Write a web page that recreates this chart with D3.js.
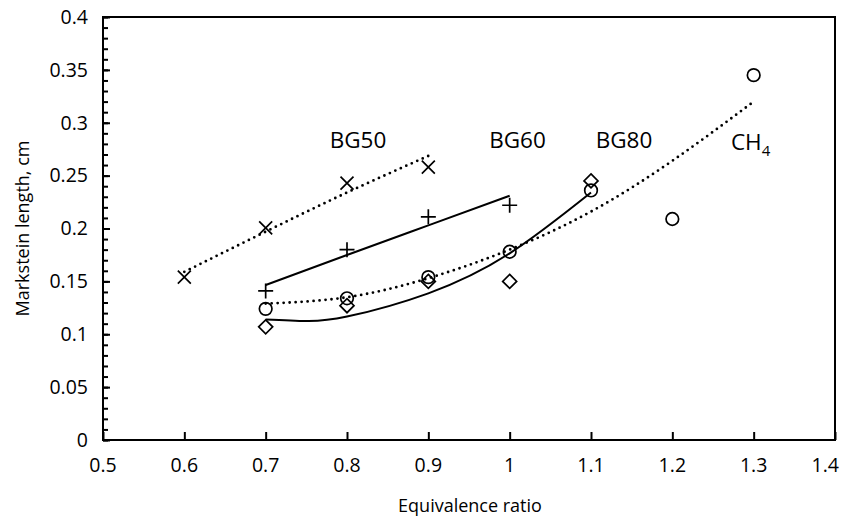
<!DOCTYPE html>
<html>
<head>
<meta charset="utf-8">
<script src="https://cdn.jsdelivr.net/npm/d3@7"></script>
<style>
  body { margin: 0; background: #fff; }
  text { font-family: "Open Sans", sans-serif; fill: #000; }
</style>
</head>
<body>
<div id="chart"></div>
<script>
// measured points
var bg50Phi = [0.6, 0.7, 0.8, 0.9];
var bg50 = [0.154, 0.2005, 0.243, 0.258];
var bg60Phi = [0.7, 0.8, 0.9, 1.0];
var bg60 = [0.141, 0.180, 0.211, 0.222];
var bg80Phi = [0.7, 0.8, 0.9, 1.0, 1.1];
var bg80 = [0.107, 0.127, 0.150, 0.150, 0.245];
var ch4Phi = [0.7, 0.8, 0.9, 1.0, 1.1, 1.2, 1.3];
var ch4 = [0.124, 0.134, 0.154, 0.178, 0.236, 0.209, 0.345];

// trendlines
var bg50TrendPhi = [0.6, 0.7, 0.8, 0.9];
var bg50Trend = [0.159, 0.197, 0.234, 0.2686];
var bg60TrendPhi = [0.7, 0.8, 0.9, 1.0];
var bg60Trend = [0.1466, 0.175, 0.203, 0.231];
var bg80TrendPhi = [0.7, 0.75, 0.8, 0.9, 1.0, 1.1];
var bg80Trend = [0.114, 0.1125, 0.1167, 0.1387, 0.1765, 0.234];
var ch4TrendPhi = [0.7, 0.8, 0.9, 1.0, 1.1, 1.2, 1.3];
var ch4Trend = [0.129, 0.135, 0.153, 0.180, 0.216, 0.264, 0.320];

var xTicks = [0.5, 0.6, 0.7, 0.8, 0.9, 1, 1.1, 1.2, 1.3, 1.4];
var yTicks = [0, 0.05, 0.1, 0.15, 0.2, 0.25, 0.3, 0.35, 0.4];
var yMinor = d3.range(0, 41).map(function(i) { return i / 100; });

// series labels (anchor middle, except CH4 which starts at x)
var labels = [
  {name: "BG50", x: 0.8135, y: 0.2758, anchor: "middle"},
  {name: "BG60", x: 1.0096, y: 0.2758, anchor: "middle"},
  {name: "BG80", x: 1.1406, y: 0.2758, anchor: "middle"},
  {name: "CH", sub: "4", x: 1.272, y: 0.2745, anchor: "start"}
];

var W = 849, H = 518;
var margin = {top: 17, right: 14, bottom: 78, left: 103};
var width = W - margin.left - margin.right,
    height = H - margin.top - margin.bottom;

var svg = d3.select("#chart").append("svg")
    .attr("width", W)
    .attr("height", H);
var g = svg.append("g")
    .attr("transform", "translate(" + margin.left + "," + margin.top + ")");

var x = d3.scaleLinear().domain([0.5, 1.4]).range([0, width]);
var y = d3.scaleLinear().domain([0, 0.4]).range([height, 0]);

// y minor ticks (inside)
g.append("g")
  .call(d3.axisRight(y).tickValues(yMinor).tickSize(5).tickFormat(""))
  .call(function(a) { a.select(".domain").remove(); })
  .selectAll("line").attr("stroke-width", 2);

// y major ticks, labels drawn as plain text
var yAxis = g.append("g")
  .call(d3.axisLeft(y).tickValues(yTicks).tickSize(-7).tickFormat(""));
yAxis.select(".domain").remove();
yAxis.selectAll("line").attr("stroke-width", 2);
g.append("g").selectAll("text")
  .data(yTicks).enter().append("text")
  .attr("x", -15).attr("y", function(d) { return y(d); })
  .attr("dy", "0.35em")
  .attr("text-anchor", "end")
  .attr("font-size", 19.5)
  .text(function(d) { return +d.toFixed(2); });

// x major ticks, labels drawn as plain text
var xAxis = g.append("g")
  .attr("transform", "translate(0," + height + ")")
  .call(d3.axisBottom(x).tickValues(xTicks).tickSize(-8).tickFormat(""));
xAxis.select(".domain").remove();
xAxis.selectAll("line").attr("stroke-width", 2);
g.append("g").selectAll("text")
  .data(xTicks).enter().append("text")
  .attr("x", function(d, i) { return i === xTicks.length - 1 ? x(d) + 4 : x(d); })
  .attr("y", height + 32)
  .attr("text-anchor", function(d, i) { return i === xTicks.length - 1 ? "end" : "middle"; })
  .attr("font-size", 19.5)
  .text(function(d) { return +d.toFixed(1); });

// frame
g.append("rect")
  .attr("width", width).attr("height", height)
  .attr("fill", "none").attr("stroke", "#000").attr("stroke-width", 2);

// axis titles
svg.append("text")
  .attr("x", margin.left + width / 2 + 1).attr("y", 512)
  .attr("text-anchor", "middle").attr("font-size", 18)
  .text("Equivalence ratio");
svg.append("text")
  .attr("transform", "translate(29," + (margin.top + height / 2) + ") rotate(-90)")
  .attr("text-anchor", "middle").attr("font-size", 18)
  .text("Markstein length, cm");

// trendlines
var line = d3.line()
  .x(function(d) { return x(d[0]); })
  .y(function(d) { return y(d[1]); })
  .curve(d3.curveNatural);

function trend(px, py, dotted) {
  var p = g.append("path")
    .datum(d3.zip(px, py))
    .attr("d", line)
    .attr("fill", "none")
    .attr("stroke", "#000");
  if (dotted) {
    p.attr("stroke-width", 2.8)
     .attr("stroke-linecap", "round")
     .attr("stroke-dasharray", "0 6");
  } else {
    p.attr("stroke-width", 2);
  }
}
trend(bg50TrendPhi, bg50Trend, true);
trend(bg60TrendPhi, bg60Trend, false);
trend(bg80TrendPhi, bg80Trend, false);
trend(ch4TrendPhi, ch4Trend, true);

// markers
var shapes = {
  "x": "M-6.5,-6.5L6.5,6.5M-6.5,6.5L6.5,-6.5",
  "+": "M-7.5,0L7.5,0M0,-7.5L0,7.5",
  "d": "M0,-7L7,0L0,7L-7,0Z",
  "o": "M6.3,0A6.3,6.3 0 1,1 -6.3,0A6.3,6.3 0 1,1 6.3,0Z"
};
function markers(px, py, kind) {
  g.append("g").selectAll("path")
    .data(d3.zip(px, py)).enter().append("path")
    .attr("transform", function(d) { return "translate(" + x(d[0]) + "," + y(d[1]) + ")"; })
    .attr("d", shapes[kind])
    .attr("fill", "none").attr("stroke", "#000").attr("stroke-width", 1.7);
}
markers(bg50Phi, bg50, "x");
markers(bg60Phi, bg60, "+");
markers(bg80Phi, bg80, "d");
markers(ch4Phi, ch4, "o");

// series labels
labels.forEach(function(l) {
  var t = g.append("text")
    .attr("x", x(l.x)).attr("y", y(l.y))
    .attr("text-anchor", l.anchor)
    .attr("font-size", 22.5)
    .text(l.name);
  if (l.sub) {
    t.append("tspan").attr("dy", 6).attr("font-size", 15).text(l.sub);
  }
});
</script>
</body>
</html>
